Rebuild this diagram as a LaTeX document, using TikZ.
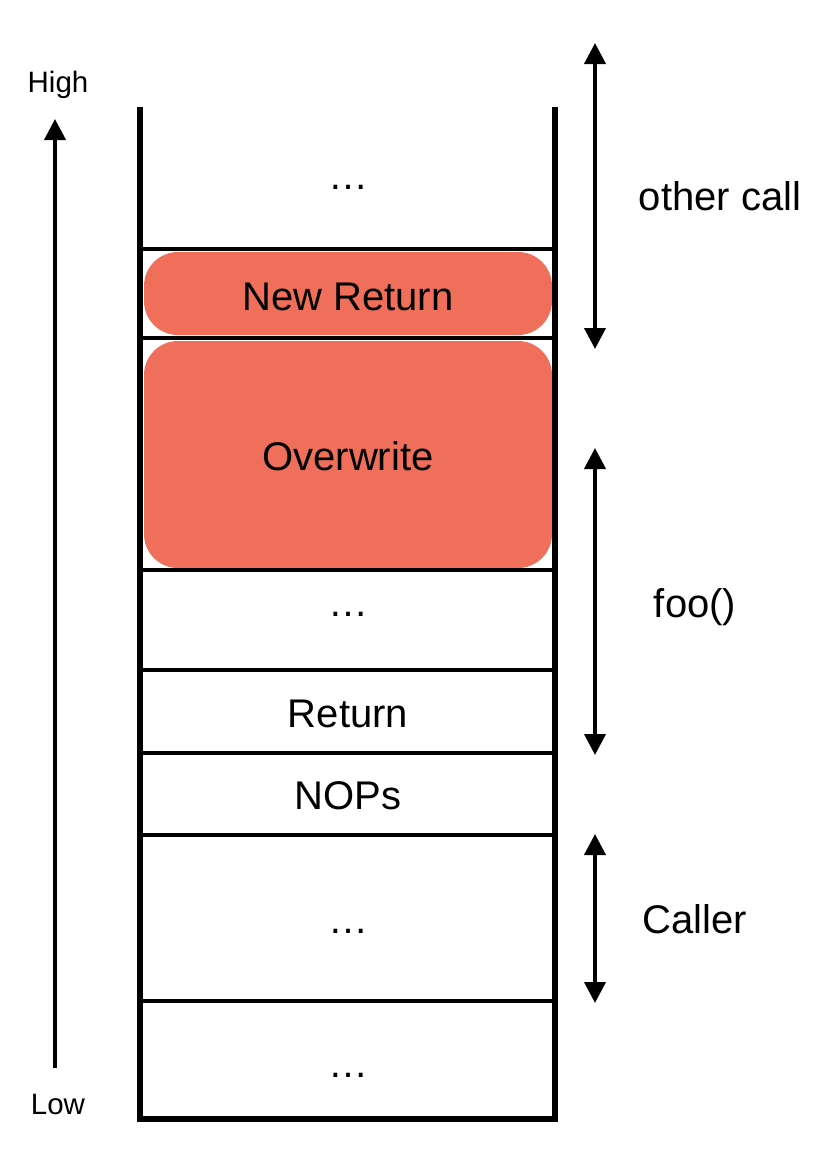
\documentclass[tikz,border=0pt]{standalone}
\usepackage{fontspec}
\setmainfont{Liberation Sans}
\usetikzlibrary{arrows.meta}
\definecolor{redfill}{RGB}{239,111,91}
\begin{document}
\begin{tikzpicture}[x=1pt,y=-1pt,
  lbl/.style={inner sep=0pt,anchor=base,font=\fontsize{40}{48}\selectfont},
  smalllbl/.style={inner sep=0pt,anchor=base,font=\fontsize{29.5}{35}\selectfont},
  wall/.style={line width=6.8pt,line join=miter},
  divider/.style={line width=4.8pt},
  redbox/.style={rectangle,fill=redfill,draw=none,rounded corners=34pt,inner sep=0pt,minimum width=408pt},
  dblarrow/.style={line width=4pt,{Triangle[width=21pt,length=21pt]}-{Triangle[width=21pt,length=21pt]}},
  uparrow/.style={line width=4pt,-{Triangle[width=21pt,length=21pt]}}]
\useasboundingbox (0,0) rectangle (824,1152);
\fill[white] (0,0) rectangle (824,1152);

% red boxes
\node[redbox,minimum height=83pt] (newretbox) at (348,293.5) {};
\node[redbox,minimum height=227pt] (overbox) at (348,454.5) {};

% stack walls
\coordinate (tl) at (140,107);
\coordinate (bl) at (140,1119);
\coordinate (br) at (555,1119);
\coordinate (tr) at (555,107);
\draw[wall] (tl) -- (bl) -- (br) -- (tr);

% dividers
\foreach \yy/\nm in {249/d1,338/d2,570/d3,670/d4,753/d5,835/d6,1001/d7}{
  \coordinate (\nm l) at (140,\yy);
  \coordinate (\nm r) at (555,\yy);
  \draw[divider] (\nm l) -- (\nm r);
}

% cell labels
\node[lbl] (dots1) at (348,189) {…};
\node[lbl] (newret) at (348,310) {New Return};
\node[lbl] (overwrite) at (348,470) {Overwrite};
\node[lbl] (dots2) at (348,616) {…};
\node[lbl] (ret) at (348,727) {Return};
\node[lbl] (nops) at (348,809) {NOPs};
\node[lbl] (dots3) at (348,933) {…};
\node[lbl] (dots4) at (348,1077) {…};

% right side labels
\node[lbl] (other) at (720,210) {other call};
\node[lbl] (foo) at (695,617) {foo()};
\node[lbl] (caller) at (695,933) {Caller};

% left labels
\node[smalllbl] (high) at (58,92) {High};
\node[smalllbl] (low) at (58,1114) {Low};

% arrows
\coordinate (oc1) at (595,43);
\coordinate (oc2) at (595,349);
\coordinate (fo1) at (595,448);
\coordinate (fo2) at (595,755);
\coordinate (ca1) at (595,834);
\coordinate (ca2) at (595,1003);
\draw[dblarrow] (oc1) -- (oc2);
\draw[dblarrow] (fo1) -- (fo2);
\draw[dblarrow] (ca1) -- (ca2);

\coordinate (lo) at (55,1068);
\coordinate (hi) at (55,119);
\draw[uparrow] (lo) -- (hi);
\end{tikzpicture}
\end{document}
